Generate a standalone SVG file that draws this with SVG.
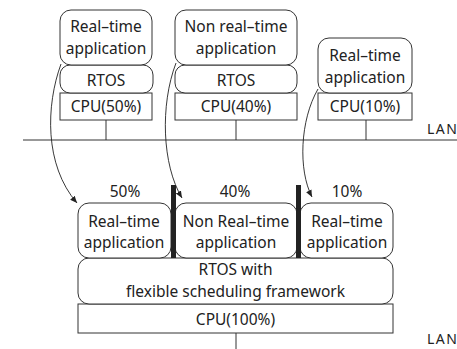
<svg xmlns="http://www.w3.org/2000/svg" width="457" height="349" viewBox="0 0 457 349">
  <defs>
    <marker id="arrow" markerWidth="8" markerHeight="8" refX="7" refY="4" orient="auto" markerUnits="userSpaceOnUse">
      <path d="M0,1 L7,4 L0,7 Z" fill="#222"/>
    </marker>
    <style>
      .box { fill: #fff; stroke: #333; stroke-width: 1; }
      .line { fill: none; stroke: #333; stroke-width: 1; }
      .bar { fill: #222; }
      .arc { fill: none; stroke: #222; stroke-width: 0.9; marker-end: url(#arrow); }
      text { font-family: "Noto Sans", "Liberation Sans", sans-serif; font-size: 15.5px; fill: #222; text-anchor: middle; }
      .lan { text-anchor: start; font-size: 14px; letter-spacing: 1.5px; }
    </style>
  </defs>

  <!-- network lines -->
  <g id="lan">
    <line class="line" x1="23" y1="140" x2="457" y2="140"/>
    <text class="lan" x="427" y="134">LAN</text>
    <line class="line" x1="236" y1="333" x2="236" y2="349"/>
    <text class="lan" x="427" y="344">LAN</text>
  </g>

  <!-- node 1: real-time on its own CPU -->
  <g id="node-rt1">
    <line class="line" x1="106" y1="120" x2="106" y2="140"/>
    <rect class="box" x="60" y="93" width="92" height="27"/>
    <text x="106" y="112">CPU(50%)</text>
    <rect class="box" x="60" y="65" width="93" height="28" rx="10"/>
    <text x="106" y="86">RTOS</text>
    <rect class="box" x="60" y="10" width="92" height="55" rx="11"/>
    <text x="106" y="32">Real–time</text>
    <text x="106" y="54">application</text>
  </g>

  <!-- node 2: non real-time -->
  <g id="node-nrt">
    <line class="line" x1="236" y1="120" x2="236" y2="140"/>
    <rect class="box" x="175" y="93" width="122" height="27"/>
    <text x="236" y="112">CPU(40%)</text>
    <rect class="box" x="175" y="65" width="122" height="28" rx="10"/>
    <text x="236" y="86">RTOS</text>
    <rect class="box" x="175" y="10" width="122" height="55" rx="11"/>
    <text x="236" y="32">Non real–time</text>
    <text x="236" y="54">application</text>
  </g>

  <!-- node 3: real-time, bare CPU -->
  <g id="node-rt2">
    <line class="line" x1="366" y1="120" x2="366" y2="140"/>
    <rect class="box" x="318" y="93" width="94" height="27"/>
    <text x="365" y="112">CPU(10%)</text>
    <rect class="box" x="318" y="38" width="94" height="55" rx="11"/>
    <text x="365" y="61">Real–time</text>
    <text x="365" y="83">application</text>
  </g>

  <!-- consolidated node -->
  <g id="node-merged">
    <rect class="box" x="78" y="304" width="315" height="29"/>
    <text x="235.5" y="325">CPU(100%)</text>
    <rect class="box" x="78" y="258" width="315" height="46" rx="11"/>
    <text x="235.5" y="275">RTOS with</text>
    <text x="235.5" y="297">flexible scheduling framework</text>
  </g>

  <g id="part-50">
    <text x="125" y="197">50%</text>
    <rect class="box" x="78" y="203" width="93" height="55" rx="11"/>
    <text x="124" y="227">Real–time</text>
    <text x="124" y="248">application</text>
  </g>

  <g id="part-40">
    <text x="235" y="197">40%</text>
    <rect class="box" x="175" y="203" width="122" height="55" rx="11"/>
    <text x="236" y="227">Non Real–time</text>
    <text x="236" y="248">application</text>
  </g>

  <g id="part-10">
    <text x="347" y="197">10%</text>
    <rect class="box" x="300" y="203" width="93" height="55" rx="11"/>
    <text x="347" y="227">Real–time</text>
    <text x="347" y="248">application</text>
  </g>

  <!-- partition walls -->
  <g id="walls">
    <rect class="bar" x="171" y="185" width="5" height="73"/>
    <rect class="bar" x="296" y="185" width="5" height="73"/>
  </g>

  <!-- migration arrows -->
  <g id="connectors">
    <path class="arc" d="M61,64 C46,105 44,165 77,203"/>
    <path class="arc" d="M176,63 C160,105 162,165 182,198"/>
    <path class="arc" d="M318,89 C300,120 298,170 312,197"/>
  </g>
</svg>
